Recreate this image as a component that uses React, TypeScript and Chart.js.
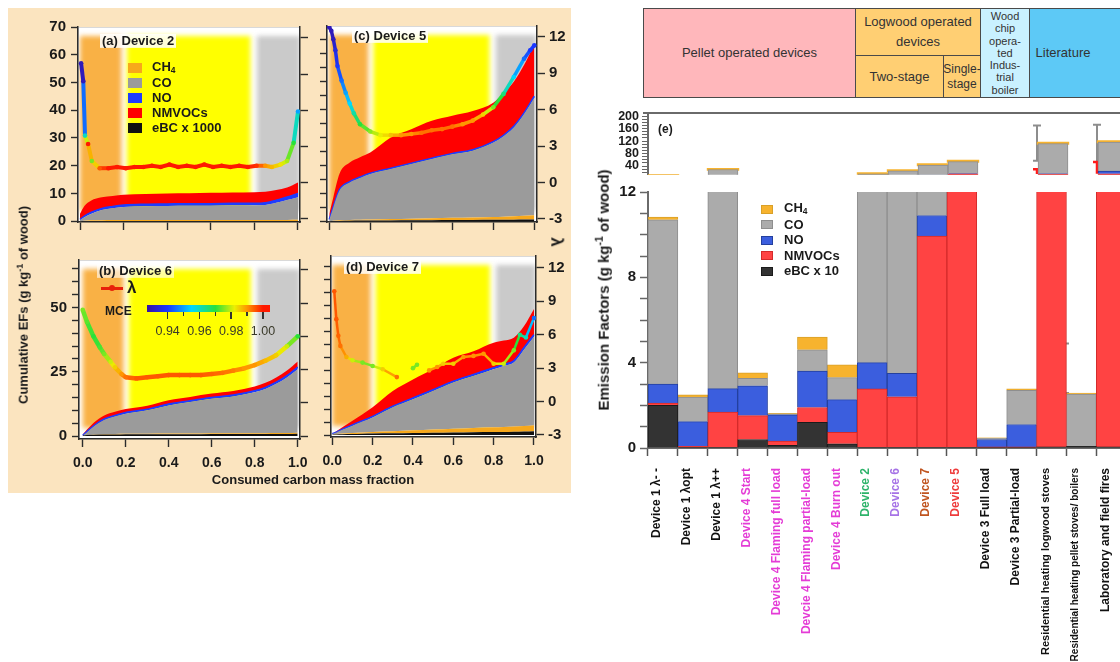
import React, { useEffect, useRef } from "react";
import { Chart, registerables } from "chart.js";

Chart.register(...registerables);

const FONT = "'Liberation Sans', Arial, Helvetica, sans-serif";
Chart.defaults.font.family = FONT;

/* ---------- panels (a)-(d): cumulative EFs vs consumed carbon mass fraction ---------- */
const EF_X = [0, 0.02, 0.05, 0.1, 0.15, 0.2, 0.3, 0.4, 0.5, 0.6, 0.7, 0.8, 0.85, 0.9, 0.95, 1.0];

// Device 2
const D2_EBC = [0, 0.05, 0.1, 0.1, 0.1, 0.1, 0.1, 0.1, 0.1, 0.1, 0.1, 0.1, 0.1, 0.1, 0.1, 0.1];
const D2_CH4 = [0, 0.1, 0.2, 0.25, 0.3, 0.3, 0.3, 0.3, 0.3, 0.3, 0.3, 0.3, 0.3, 0.3, 0.35, 0.4];
const D2_CO = [0.4, 1.25, 2.3, 3.65, 4.3, 4.7, 5.0, 5.1, 5.2, 5.2, 5.3, 5.3, 5.4, 6.2, 7.15, 8.1];
const D2_NO = [0.2, 0.4, 0.5, 0.6, 0.6, 0.7, 0.7, 0.7, 0.7, 0.7, 0.7, 0.7, 0.8, 0.9, 1.1, 1.4];
const D2_NMVOC = [2.1, 3.7, 4.3, 4.0, 3.8, 3.7, 3.7, 3.8, 3.8, 3.9, 3.9, 4.0, 4.0, 3.7, 3.4, 3.9];
const D2_LAMBDA_X = [0.005, 0.015, 0.023, 0.037, 0.054, 0.09, 0.13, 0.17, 0.21, 0.25, 0.29, 0.33, 0.37, 0.41, 0.45, 0.49, 0.53, 0.57, 0.61, 0.65, 0.69, 0.73, 0.77, 0.81, 0.85, 0.88, 0.92, 0.95, 0.98, 1.0];
const D2_LAMBDA = [9.9, 8.4, 3.9, 3.2, 1.8, 1.2, 1.2, 1.3, 1.2, 1.3, 1.3, 1.4, 1.3, 1.5, 1.3, 1.4, 1.3, 1.5, 1.3, 1.4, 1.3, 1.4, 1.3, 1.4, 1.4, 1.3, 1.5, 1.8, 3.3, 5.9];
const D2_MCE = [0.93, 0.93, 0.96, 1.0, 0.975, 0.995, 1.0, 1.0, 1.0, 1.0, 1.0, 1.0, 1.0, 1.0, 1.0, 1.0, 1.0, 1.0, 1.0, 1.0, 1.0, 1.0, 1.0, 0.998, 0.99, 0.987, 0.983, 0.978, 0.97, 0.95];

// Device 5
const D5_EBC = [0, 0.05, 0.1, 0.15, 0.2, 0.2, 0.25, 0.3, 0.35, 0.4, 0.45, 0.5, 0.5, 0.55, 0.6, 0.6];
const D5_CH4 = [0, 0.1, 0.2, 0.3, 0.35, 0.4, 0.5, 0.6, 0.7, 0.8, 0.9, 1.0, 1.1, 1.2, 1.3, 1.5];
const D5_CO = [0.5, 4.85, 10.7, 13.45, 14.95, 16.3, 17.95, 19.6, 21.25, 22.8, 23.95, 26.7, 28.9, 31.85, 36.5, 42.2];
const D5_NO = [0.1, 0.2, 0.3, 0.3, 0.3, 0.3, 0.3, 0.3, 0.3, 0.3, 0.3, 0.3, 0.3, 0.4, 0.4, 0.5];
const D5_NMVOC = [2.1, 3.4, 5.7, 6.8, 7.1, 7.4, 11.0, 12.2, 13.4, 13.5, 13.9, 14.0, 15.2, 16.0, 17.2, 18.6];
const D5_LAMBDA_X = [0.0, 0.01, 0.02, 0.03, 0.04, 0.06, 0.08, 0.1, 0.12, 0.15, 0.2, 0.25, 0.3, 0.35, 0.4, 0.45, 0.5, 0.55, 0.6, 0.65, 0.7, 0.75, 0.8, 0.85, 0.9, 0.95, 0.98, 1.0];
const D5_LAMBDA = [12.8, 12.5, 11.8, 10.9, 9.6, 8.4, 7.4, 6.5, 5.7, 4.8, 4.2, 3.9, 3.9, 3.9, 4.0, 4.1, 4.3, 4.4, 4.6, 4.8, 5.1, 5.6, 6.2, 7.3, 8.7, 10.2, 10.9, 11.3];
const D5_MCE = [0.93, 0.93, 0.93, 0.935, 0.94, 0.945, 0.95, 0.955, 0.962, 0.97, 0.976, 0.982, 0.986, 0.99, 0.99, 0.993, 0.993, 0.993, 0.993, 0.99, 0.99, 0.985, 0.975, 0.965, 0.955, 0.945, 0.94, 0.94];

// Device 6
const D6_EBC = [0.2, 0.4, 0.5, 0.6, 0.6, 0.7, 0.7, 0.7, 0.7, 0.8, 0.8, 0.8, 0.8, 0.8, 0.8, 0.9];
const D6_CH4 = [0, 0.05, 0.1, 0.15, 0.2, 0.2, 0.2, 0.25, 0.25, 0.3, 0.3, 0.3, 0.3, 0.35, 0.35, 0.4];
const D6_CO = [0, 1.05, 3.0, 5.45, 6.8, 7.8, 9.1, 10.95, 12.25, 13.4, 14.3, 15.9, 17.2, 19.15, 21.65, 24.7];
const D6_NO = [0.1, 0.2, 0.3, 0.4, 0.4, 0.4, 0.4, 0.5, 0.5, 0.5, 0.5, 0.6, 0.6, 0.6, 0.7, 0.8];
const D6_NMVOC = [0.3, 0.8, 1.2, 1.4, 1.4, 1.4, 1.4, 1.5, 1.5, 1.5, 1.6, 1.7, 1.8, 1.9, 2.0, 2.2];
const D6_LAMBDA_X = [0.0, 0.02, 0.05, 0.08, 0.1, 0.13, 0.15, 0.18, 0.2, 0.25, 0.3, 0.35, 0.4, 0.45, 0.5, 0.55, 0.6, 0.65, 0.7, 0.75, 0.8, 0.85, 0.9, 0.95, 1.0];
const D6_LAMBDA = [8.4, 7.3, 6.0, 5.0, 4.4, 3.7, 3.2, 2.6, 2.3, 2.2, 2.3, 2.4, 2.5, 2.5, 2.5, 2.5, 2.6, 2.7, 2.9, 3.1, 3.4, 3.8, 4.3, 5.1, 6.0];
const D6_MCE = [0.975, 0.973, 0.97, 0.972, 0.975, 0.98, 0.985, 0.99, 0.993, 0.995, 0.995, 0.995, 0.995, 0.995, 0.995, 0.995, 0.994, 0.993, 0.992, 0.99, 0.99, 0.987, 0.985, 0.98, 0.97];

// Device 7
const D7_EBC = [0.1, 0.2, 0.3, 0.4, 0.5, 0.6, 0.7, 0.8, 0.9, 1.0, 1.1, 1.2, 1.2, 1.3, 1.4, 1.5];
const D7_CH4 = [0.1, 0.2, 0.3, 0.4, 0.5, 0.6, 0.8, 1.0, 1.2, 1.4, 1.6, 1.8, 1.9, 2.0, 2.1, 2.3];
const D7_CO = [0.2, 0.6, 1.4, 2.8, 4.2, 5.6, 9.2, 12.0, 14.9, 17.9, 20.1, 22.4, 23.6, 24.7, 29.5, 34.2];
const D7_NO = [0.1, 0.1, 0.2, 0.3, 0.3, 0.4, 0.4, 0.5, 0.5, 0.5, 0.6, 0.6, 0.6, 0.7, 0.7, 0.8];
const D7_NMVOC = [0, 0.4, 0.8, 1.6, 2.5, 3.5, 5.9, 7.2, 7.9, 9.1, 9.0, 9.7, 9.2, 8.9, 8.3, 9.9];
const D7_LAMBDA_X = [0.01, 0.02, 0.03, 0.04, 0.07, 0.1, 0.15, 0.2, 0.25, 0.32, 0.36, 0.4, 0.42, 0.45, 0.48, 0.52, 0.55, 0.6, 0.65, 0.7, 0.75, 0.8, 0.85, 0.9, 0.93, 0.96, 1.0];
const D7_LAMBDA = [9.9, 7.4, 5.9, 5.0, 4.0, 3.7, 3.5, 3.2, 2.9, 2.2, null, 3.0, 3.3, null, 2.8, 3.1, 3.4, 3.4, 4.0, 4.1, 4.3, 3.4, 3.4, 4.6, 6.0, 5.75, 7.5];
const D7_MCE = [0.995, 0.995, 0.994, 0.993, 0.988, 0.98, 0.975, 0.975, 0.985, 0.993, 0.99, 0.975, 0.975, 0.99, 0.99, 0.99, 0.985, 0.985, 0.99, 0.99, 0.99, 0.985, 0.98, 0.975, 0.965, 0.96, 0.945];

// combustion phases (start-up, flaming, burn-out) on the consumed-carbon axis
const PHASE_START = [0, 0.215, 0.812];
const PHASE_END = [0.19, 0.782, 1.01];
const PHASE_COLORS = ["#F9B145", "#FFFF00", "#CACACA"];

const SUB_X_TICKS = [0, 0.2, 0.4, 0.6, 0.8, 1.0];
const LAMBDA_TICKS = [-3, 0, 3, 6, 9, 12];
const EF_TICKS_TOP = [0, 10, 20, 30, 40, 50, 60, 70];
const EF_TICKS_BOTTOM = [0, 5, 10, 15, 20, 25, 30, 35, 40, 45, 50, 55, 60, 65];
const EF_LABELS_BOTTOM = [0, 25, 50];

// MCE colour scale
const MCE_STOPS = [0.925, 0.94, 0.955, 0.97, 0.982, 0.99, 1.0];
const MCE_RGB = [
  [60, 12, 150],
  [25, 55, 255],
  [0, 215, 255],
  [40, 225, 60],
  [235, 240, 0],
  [255, 150, 0],
  [255, 25, 0],
];
const MCE_BAR_MIN = 0.927;
const MCE_BAR_MAX = 1.0044;
const MCE_BAR_TICKS = [0.94, 0.95, 0.96, 0.97, 0.98, 0.99, 1.0];
const MCE_BAR_LABELS = ["0.94", "0.96", "0.98", "1.00"];

/* ---------- panel (e): emission factors per device / operating condition ---------- */
const CATEGORIES = [
  "Device 1 λ- -",
  "Device 1 λopt",
  "Device 1 λ++",
  "Device 4 Start",
  "Device 4 Flaming full load",
  "Devcie 4 Flaming partial-load",
  "Device 4 Burn out",
  "Device 2",
  "Device 6",
  "Device 7",
  "Device 5",
  "Device 3 Full load",
  "Device 3 Partial-load",
  "Residential heating logwood stoves",
  "Residential heating pellet stoves/ boilers",
  "Laboratory and field fires",
];
const CATEGORY_COLORS = [
  "#111111", "#111111", "#111111",
  "#E43CD6", "#E43CD6", "#E43CD6", "#E43CD6",
  "#2DB36A", "#A673E6", "#C0541F", "#EE3B3B",
  "#111111", "#111111", "#111111", "#111111", "#111111",
];
const CATEGORY_FONT_SIZES = [12, 12, 12, 12, 12, 12, 12, 12, 12, 12, 12, 12, 12, 11, 10, 12];
const EBC_X10 = [2.0, 0.03, 0.03, 0.4, 0.12, 1.2, 0.2, 0.03, 0.03, 0.03, 0.03, 0.02, 0.02, 0.05, 0.08, 0.05];
const NMVOC = [0.1, 0.05, 1.65, 1.12, 0.2, 0.7, 0.54, 2.74, 2.37, 9.9, 15.0, 0.03, 0.03, 14.0, 0.0, 15.0];
const NO = [0.9, 1.16, 1.1, 1.4, 1.24, 1.7, 1.53, 1.23, 1.1, 0.97, 1.0, 0.35, 1.05, 1.0, 0.0, 9.0];
const CO = [7.7, 1.15, 26.0, 0.35, 0.04, 1.0, 1.03, 11.0, 21.0, 32.0, 38.0, 0.05, 1.6, 97.0, 2.45, 93.0];
const CH4 = [0.12, 0.1, 1.2, 0.25, 0.03, 0.6, 0.6, 1.0, 1.5, 2.0, 2.0, 0.03, 0.07, 2.0, 0.05, 2.0];
const TOTAL_ERR_LOW = [null, null, null, null, null, null, null, null, null, null, null, null, null, 57, 2.58, 53];
const TOTAL_ERR_HIGH = [null, null, null, null, null, null, null, null, null, null, null, null, null, 170, 4.9, 172];
const NMVOC_ERR_HIGH = [null, null, null, null, null, null, null, null, null, null, null, null, null, 30, null, 53];

const LOW_TICKS = [0, 1, 2, 3, 4, 5, 6, 7, 8, 9, 10, 11, 12];
const LOW_LABELS = [0, 4, 8, 12];
const HIGH_TICKS = [20, 30, 40, 50, 60, 70, 80, 90, 100, 110, 120, 130, 140, 150, 160, 170, 180, 190, 200];
const HIGH_LABELS = [40, 80, 120, 160, 200];

const SPECIES_COLORS = {
  ch4: "#F7B32E",
  co: "#ABABAB",
  no: "#3B5EDE",
  nmvoc: "#FF4343",
  ebc: "#333333",
};

/* ---------- helpers ---------- */
function mceColor(v: number): string {
  const c = Math.min(Math.max(v, MCE_STOPS[0]), MCE_STOPS[MCE_STOPS.length - 1]);
  let i = 0;
  while (i < MCE_STOPS.length - 2 && c > MCE_STOPS[i + 1]) i++;
  const t = (c - MCE_STOPS[i]) / (MCE_STOPS[i + 1] - MCE_STOPS[i]);
  const a = MCE_RGB[i];
  const b = MCE_RGB[i + 1];
  const m = (k: number) => Math.round(a[k] + (b[k] - a[k]) * t);
  return `rgb(${m(0)},${m(1)},${m(2)})`;
}

const plotBackground = {
  id: "plotBackground",
  beforeDraw(chart: any) {
    const { ctx, chartArea: a } = chart;
    ctx.save();
    ctx.fillStyle = "#ffffff";
    ctx.fillRect(a.left, a.top, a.width, a.height);
    ctx.strokeStyle = "#d9d9d9";
    ctx.lineWidth = 1;
    ctx.strokeRect(a.left + 0.5, a.top + 0.5, a.width - 1, a.height - 1);
    ctx.restore();
  },
};

const phaseShading = {
  id: "phaseShading",
  beforeDatasetsDraw(chart: any) {
    const { ctx, chartArea: a, scales } = chart;
    const x = scales.x;
    ctx.save();
    ctx.beginPath();
    ctx.rect(a.left + 1, a.top + 1, a.width - 2, a.height - 2);
    ctx.clip();
    ctx.filter = "blur(2.5px)";
    PHASE_START.forEach((s, i) => {
      const x0 = x.getPixelForValue(s);
      const x1 = x.getPixelForValue(PHASE_END[i]);
      ctx.fillStyle = PHASE_COLORS[i];
      ctx.fillRect(x0, a.top + 9, x1 - x0, a.height - 20);
    });
    ctx.restore();
  },
};

type Device = {
  ebc: number[];
  ch4: number[];
  co: number[];
  no: number[];
  nmvoc: number[];
  lx: number[];
  lv: (number | null)[];
  mce: number[];
  lw: number;
};

const DEVICES: Record<string, Device> = {
  d2: { ebc: D2_EBC, ch4: D2_CH4, co: D2_CO, no: D2_NO, nmvoc: D2_NMVOC, lx: D2_LAMBDA_X, lv: D2_LAMBDA, mce: D2_MCE, lw: 4 },
  d5: { ebc: D5_EBC, ch4: D5_CH4, co: D5_CO, no: D5_NO, nmvoc: D5_NMVOC, lx: D5_LAMBDA_X, lv: D5_LAMBDA, mce: D5_MCE, lw: 3.5 },
  d6: { ebc: D6_EBC, ch4: D6_CH4, co: D6_CO, no: D6_NO, nmvoc: D6_NMVOC, lx: D6_LAMBDA_X, lv: D6_LAMBDA, mce: D6_MCE, lw: 4.5 },
  d7: { ebc: D7_EBC, ch4: D7_CH4, co: D7_CO, no: D7_NO, nmvoc: D7_NMVOC, lx: D7_LAMBDA_X, lv: D7_LAMBDA, mce: D7_MCE, lw: 2.5 },
};

type Panel = {
  device: string;
  area: { l: number; t: number; r: number; b: number };
  xRange: [number, number];
  yRange: [number, number];
  lRange: [number, number];
  yTicks: number[];
  yLabels: number[];
  showX: boolean;
  showY: boolean;
  showL: boolean;
};

const AX_L = 50;
const AX_R = 40;
const PAD_T = 12;
const AX_B = 40;

const PANELS: Panel[] = [
  { device: "d2", area: { l: 78, t: 25, r: 300, b: 221.5 }, xRange: [-0.0092, 1.0092], yRange: [-0.3, 70], lRange: [-3.26, 12.9], yTicks: EF_TICKS_TOP, yLabels: EF_TICKS_TOP, showX: false, showY: true, showL: false },
  { device: "d5", area: { l: 327, t: 25, r: 537, b: 221.5 }, xRange: [-0.011, 1.0132], yRange: [-0.3, 70], lRange: [-3.26, 12.9], yTicks: EF_TICKS_BOTTOM, yLabels: [], showX: false, showY: false, showL: true },
  { device: "d6", area: { l: 79, t: 258, r: 300, b: 439 }, xRange: [-0.0172, 1.0107], yRange: [-1.15, 68.46], lRange: [-3.27, 12.89], yTicks: EF_TICKS_BOTTOM, yLabels: EF_LABELS_BOTTOM, showX: true, showY: true, showL: false },
  { device: "d7", area: { l: 331, t: 255, r: 536, b: 437 }, xRange: [-0.0064, 1.01], yRange: [-0.77, 69.2], lRange: [-3.18, 13.07], yTicks: EF_TICKS_BOTTOM, yLabels: [], showX: true, showY: false, showL: true },
];

function panelBox(p: Panel) {
  return {
    left: p.area.l - AX_L,
    top: p.area.t - PAD_T,
    width: Math.round(p.area.r - p.area.l + AX_L + AX_R),
    height: Math.round(p.area.b - p.area.t + PAD_T + AX_B),
  };
}

function panelConfig(p: Panel) {
  const dev = DEVICES[p.device];
  const area = (label: string, vals: number[], color: string, fill: any, line?: string) => ({
    type: "line",
    label,
    data: EF_X.map((x, i) => ({ x, y: vals[i] })),
    yAxisID: "y",
    order: 1,
    fill,
    backgroundColor: color,
    borderColor: line ?? color,
    borderWidth: line ? 1.6 : 0,
    pointRadius: 0,
    cubicInterpolationMode: "monotone",
  });
  const axisLine = { color: "#2b2b2b", width: 1.5 };
  const grid = { drawOnChartArea: false, tickLength: 8, color: "#2b2b2b", tickWidth: 1.4 };
  const tickFont = { size: 15, weight: "bold" };
  return {
    type: "line",
    data: {
      datasets: [
        {
          type: "line",
          label: "λ",
          yAxisID: "y1",
          order: 0,
          data: dev.lx.map((x, i) => ({ x, y: dev.lv[i] })),
          borderWidth: dev.lw,
          borderColor: mceColor(dev.mce[0]),
          segment: {
            borderColor: (c: any) => mceColor((dev.mce[c.p0DataIndex] + dev.mce[c.p1DataIndex]) / 2),
          },
          pointRadius: 2.3,
          pointBorderWidth: 0,
          pointBackgroundColor: dev.mce.map((m) => mceColor(m)),
          fill: false,
          tension: 0,
          spanGaps: false,
        },
        area("eBC x 1000", dev.ebc, "#111111", "origin"),
        area("CH4", dev.ch4, "#F7A81B", "-1"),
        area("CO", dev.co, "#9B9B9B", "-1"),
        area("NO", dev.no, "#1E3CFF", "-1", "#1E3CFF"),
        area("NMVOCs", dev.nmvoc, "#FF0000", "-1"),
      ],
    },
    options: {
      responsive: false,
      animation: false,
      events: [],
      layout: { padding: { top: PAD_T, left: 0, right: 0, bottom: 0 } },
      plugins: { legend: { display: false }, tooltip: { enabled: false } },
      scales: {
        x: {
          type: "linear",
          min: p.xRange[0],
          max: p.xRange[1],
          afterBuildTicks: (s: any) => {
            s.ticks = SUB_X_TICKS.map((v) => ({ value: v }));
          },
          afterFit: (s: any) => {
            s.height = AX_B;
          },
          grid,
          border: axisLine,
          ticks: {
            display: p.showX,
            autoSkip: false,
            maxRotation: 0,
            font: { size: 14, weight: "bold" },
            color: "#1a1a1a",
            padding: 8,
            callback: (v: any) => Number(v).toFixed(1),
          },
        },
        y: {
          type: "linear",
          stacked: true,
          position: "left",
          min: p.yRange[0],
          max: p.yRange[1],
          afterBuildTicks: (s: any) => {
            s.ticks = p.yTicks.map((v) => ({ value: v }));
          },
          afterFit: (s: any) => {
            s.width = AX_L;
          },
          grid: { ...grid, tickLength: 7 },
          border: axisLine,
          ticks: {
            display: p.showY,
            autoSkip: false,
            font: tickFont,
            color: "#1a1a1a",
            padding: 5,
            callback: (v: any) => (p.yLabels.includes(Number(v)) ? String(v) : ""),
          },
        },
        y1: {
          type: "linear",
          position: "right",
          min: p.lRange[0],
          max: p.lRange[1],
          afterBuildTicks: (s: any) => {
            s.ticks = LAMBDA_TICKS.map((v) => ({ value: v }));
          },
          afterFit: (s: any) => {
            s.width = AX_R;
          },
          grid,
          border: axisLine,
          ticks: {
            display: p.showL,
            autoSkip: false,
            font: tickFont,
            color: "#1a1a1a",
            padding: 4,
          },
        },
      },
    },
    plugins: [plotBackground, phaseShading],
  };
}

/* ---------- panel (e) charts ---------- */
const BAR_AREA = { l: 648, r: 1128, lowTop: 191, lowBottom: 448, highTop: 113, highBottom: 176 };

function barDatasets(upper: boolean) {
  const mk = (label: string, data: number[], bg: string, border: string, extra: any = {}) => ({
    label,
    data,
    backgroundColor: bg,
    borderColor: border,
    borderWidth: 1,
    stack: "ef",
    barPercentage: 1,
    categoryPercentage: 1,
    clip: 0,
    ...extra,
  });
  return [
    mk("eBC x 10", EBC_X10, SPECIES_COLORS.ebc, "#1b1b1b"),
    mk("NMVOCs", NMVOC, SPECIES_COLORS.nmvoc, "#D42A2A"),
    mk("NO", NO, SPECIES_COLORS.no, "#24409E"),
    mk("CO", CO, SPECIES_COLORS.co, "#8E8E8E"),
    mk("CH4", CH4, SPECIES_COLORS.ch4, "#D9A028", upper ? { inflateAmount: 1.2, borderWidth: 0 } : {}),
  ];
}

// error bars sit on the left edge of each bar; drawn beneath the bars
const errorBars = {
  id: "errorBars",
  beforeDatasetsDraw(chart: any) {
    const { ctx, chartArea: a, scales } = chart;
    const y = scales.y;
    const meta = chart.getDatasetMeta(4);
    ctx.save();
    ctx.beginPath();
    ctx.rect(a.left, a.top - 2, a.width, a.height + 2);
    ctx.clip();
    CATEGORIES.forEach((_, i) => {
      const el = meta.data[i];
      if (!el) return;
      const { x, width } = el.getProps(["x", "width"], true);
      const bx = Math.round(x - width / 2) - 1;
      const lo = TOTAL_ERR_LOW[i];
      const hi = TOTAL_ERR_HIGH[i];
      if (lo != null && hi != null) {
        const y0 = y.getPixelForValue(lo);
        const y1 = y.getPixelForValue(hi);
        ctx.strokeStyle = "#8d8d8d";
        ctx.lineWidth = 2;
        ctx.beginPath();
        ctx.moveTo(bx, y0);
        ctx.lineTo(bx, y1);
        ctx.moveTo(bx - 4, y0);
        ctx.lineTo(bx + 4, y0);
        ctx.moveTo(bx - 4, y1);
        ctx.lineTo(bx + 4, y1);
        ctx.stroke();
      }
      const nh = NMVOC_ERR_HIGH[i];
      if (nh != null) {
        const base = y.getPixelForValue(EBC_X10[i] + NMVOC[i]);
        const top = y.getPixelForValue(nh);
        ctx.strokeStyle = "#FF1A1A";
        ctx.lineWidth = 2.5;
        ctx.beginPath();
        ctx.moveTo(bx, base);
        ctx.lineTo(bx, top);
        ctx.moveTo(bx - 4, top);
        ctx.lineTo(bx + 4, top);
        ctx.stroke();
      }
    });
    ctx.restore();
  },
};

const topFrame = {
  id: "topFrame",
  afterDraw(chart: any) {
    const { ctx, chartArea: a } = chart;
    ctx.save();
    ctx.strokeStyle = "#6a6a6a";
    ctx.lineWidth = 2;
    ctx.beginPath();
    ctx.moveTo(a.left - 5, a.top);
    ctx.lineTo(a.right, a.top);
    ctx.stroke();
    ctx.restore();
  },
};

const LOW_BOX = {
  left: BAR_AREA.l - AX_L,
  top: BAR_AREA.lowTop - PAD_T,
  width: BAR_AREA.r - BAR_AREA.l + AX_L + 10,
  height: BAR_AREA.lowBottom - BAR_AREA.lowTop + PAD_T + 220,
};
const HIGH_BOX = {
  left: BAR_AREA.l - AX_L,
  top: BAR_AREA.highTop - PAD_T,
  width: BAR_AREA.r - BAR_AREA.l + AX_L + 10,
  height: BAR_AREA.highBottom - BAR_AREA.highTop + PAD_T + 8,
};

function lowBarConfig() {
  return {
    type: "bar",
    data: { labels: CATEGORIES, datasets: barDatasets(false) },
    options: {
      responsive: false,
      animation: false,
      events: [],
      layout: { padding: { top: PAD_T, left: 0, right: 10, bottom: 0 } },
      plugins: { legend: { display: false }, tooltip: { enabled: false } },
      scales: {
        x: {
          stacked: true,
          offset: true,
          afterFit: (s: any) => {
            s.height = 220;
          },
          grid: { offset: true, drawOnChartArea: false, tickLength: 8, color: "#555555", tickWidth: 1.5 },
          border: { color: "#6a6a6a", width: 2 },
          ticks: {
            autoSkip: false,
            minRotation: 90,
            maxRotation: 90,
            padding: 12,
            labelOffset: -6,
            color: (c: any) => CATEGORY_COLORS[c.index] ?? "#111",
            font: (c: any) => ({ size: CATEGORY_FONT_SIZES[c.index] ?? 12, weight: "bold" }),
          },
        },
        y: {
          stacked: true,
          min: 0,
          max: 12,
          afterBuildTicks: (s: any) => {
            s.ticks = LOW_TICKS.map((v) => ({ value: v }));
          },
          afterFit: (s: any) => {
            s.width = AX_L;
          },
          grid: { drawOnChartArea: false, tickLength: 8, color: "#666666", tickWidth: 1.5 },
          border: { color: "#6a6a6a", width: 2 },
          ticks: {
            autoSkip: false,
            padding: 4,
            color: "#1a1a1a",
            font: { size: 15, weight: "bold" },
            callback: (v: any) => (LOW_LABELS.includes(Number(v)) ? String(v) : ""),
          },
        },
      },
    },
    plugins: [errorBars],
  };
}

function highBarConfig() {
  return {
    type: "bar",
    data: { labels: CATEGORIES, datasets: barDatasets(true) },
    options: {
      responsive: false,
      animation: false,
      events: [],
      layout: { padding: { top: PAD_T, left: 0, right: 10, bottom: 8 } },
      plugins: { legend: { display: false }, tooltip: { enabled: false } },
      scales: {
        x: { display: false, stacked: true, offset: true },
        y: {
          stacked: true,
          min: 12,
          max: 210,
          afterBuildTicks: (s: any) => {
            s.ticks = HIGH_TICKS.map((v) => ({ value: v }));
          },
          afterFit: (s: any) => {
            s.width = AX_L;
          },
          grid: { drawOnChartArea: false, tickLength: 6, color: "#666666", tickWidth: 1 },
          border: { color: "#6a6a6a", width: 2 },
          ticks: {
            autoSkip: false,
            padding: 3,
            color: "#1a1a1a",
            font: { size: 12.5, weight: "bold", lineHeight: 1 },
            callback: (v: any) => (HIGH_LABELS.includes(Number(v)) ? String(v) : ""),
          },
        },
      },
    },
    plugins: [errorBars, topFrame],
  };
}

/* ---------- components ---------- */
type Box = { left: number; top: number; width: number; height: number };

function ChartCanvas({ box, make }: { box: Box; make: () => any }) {
  const ref = useRef<HTMLCanvasElement | null>(null);
  useEffect(() => {
    if (!ref.current) return;
    const chart = new Chart(ref.current, make());
    return () => chart.destroy();
  }, []);
  return (
    <canvas
      ref={ref}
      width={box.width}
      height={box.height}
      style={{ position: "absolute", left: box.left, top: box.top, width: box.width, height: box.height }}
    />
  );
}

function Label({
  x,
  y,
  children,
  size = 13,
  bold = true,
  anchor = "center",
  rotate = 0,
  color = "#1a1a1a",
  bg,
}: {
  x: number;
  y: number;
  children: React.ReactNode;
  size?: number;
  bold?: boolean;
  anchor?: "center" | "left";
  rotate?: number;
  color?: string;
  bg?: string;
}) {
  const tx = anchor === "center" ? "-50%" : "0";
  return (
    <div
      style={{
        position: "absolute",
        left: x,
        top: y,
        transform: `translate(${tx}, -50%)${rotate ? ` rotate(${rotate}deg)` : ""}`,
        whiteSpace: "nowrap",
        fontSize: size,
        fontWeight: bold ? 700 : 400,
        color,
        lineHeight: 1.1,
        background: bg,
        padding: bg ? "0 2px" : undefined,
      }}
    >
      {children}
    </div>
  );
}

function HeaderBox({
  l,
  t,
  w,
  h,
  bg,
  size = 13,
  lineHeight = "16px",
  children,
  innerStyle,
}: {
  l: number;
  t: number;
  w: number;
  h: number;
  bg: string;
  size?: number;
  lineHeight?: string;
  children: React.ReactNode;
  innerStyle?: React.CSSProperties;
}) {
  return (
    <div
      style={{
        position: "absolute",
        left: l,
        top: t,
        width: w,
        height: h,
        background: bg,
        border: "1.5px solid #4a4a4a",
        boxSizing: "border-box",
        display: "flex",
        alignItems: "center",
        justifyContent: "center",
        textAlign: "center",
        fontSize: size,
        lineHeight,
        color: "#333",
      }}
    >
      <div style={innerStyle}>{children}</div>
    </div>
  );
}

const CH4_TEXT = (
  <span>
    CH<sub style={{ fontSize: "0.65em", verticalAlign: "-0.25em" }}>4</sub>
  </span>
);

const PANEL_LEGEND = [
  { text: CH4_TEXT, color: "#F7A81B" },
  { text: "CO", color: "#9B9B9B" },
  { text: "NO", color: "#1E3CFF" },
  { text: "NMVOCs", color: "#FF0000" },
  { text: "eBC x 1000", color: "#111111" },
];

const BAR_LEGEND = [
  { text: CH4_TEXT, color: SPECIES_COLORS.ch4, border: "#D9A028" },
  { text: "CO", color: SPECIES_COLORS.co, border: "#8E8E8E" },
  { text: "NO", color: SPECIES_COLORS.no, border: "#24409E" },
  { text: "NMVOCs", color: SPECIES_COLORS.nmvoc, border: "#D42A2A" },
  { text: "eBC x 10", color: SPECIES_COLORS.ebc, border: "#1b1b1b" },
];

function mceGradient() {
  const stops = MCE_STOPS.map((s, i) => {
    const pct = ((s - MCE_BAR_MIN) / (MCE_BAR_MAX - MCE_BAR_MIN)) * 100;
    const c = MCE_RGB[i];
    return `rgb(${c[0]},${c[1]},${c[2]}) ${pct.toFixed(1)}%`;
  });
  return `linear-gradient(to right, ${stops.join(", ")})`;
}

export default function App() {
  const cbLeft = 147;
  const cbWidth = 123;
  const cbX = (v: number) => cbLeft + ((v - MCE_BAR_MIN) / (MCE_BAR_MAX - MCE_BAR_MIN)) * cbWidth;

  return (
    <div
      style={{
        position: "fixed",
        left: 0,
        top: 0,
        width: 1120,
        height: 662,
        overflow: "hidden",
        background: "#ffffff",
        fontFamily: FONT,
      }}
    >
      {/* left figure background */}
      <div style={{ position: "absolute", left: 8, top: 8, width: 563, height: 485, background: "#FBE4BF" }} />

      {PANELS.map((p) => (
        <ChartCanvas key={p.device} box={panelBox(p)} make={() => panelConfig(p)} />
      ))}

      {/* panel titles */}
      <Label x={100} y={41} anchor="left" bg="rgba(255,255,255,0.85)">(a) Device 2</Label>
      <Label x={352} y={36} anchor="left" bg="rgba(255,255,255,0.85)">(c) Device 5</Label>
      <Label x={97} y={271} anchor="left" bg="rgba(255,255,255,0.6)">(b) Device 6</Label>
      <Label x={344} y={267} anchor="left" bg="rgba(255,255,255,0.85)">(d) Device 7</Label>

      {/* species legend in (a) */}
      {PANEL_LEGEND.map((it, i) => (
        <React.Fragment key={i}>
          <div
            style={{
              position: "absolute",
              left: 128,
              top: 68 + i * 15 - 5,
              width: 14,
              height: 10,
              background: it.color,
            }}
          />
          <Label x={152} y={68 + i * 15} anchor="left">
            {it.text}
          </Label>
        </React.Fragment>
      ))}

      {/* λ / MCE legend in (b) */}
      <div style={{ position: "absolute", left: 101, top: 287, width: 22, height: 3, background: "#E8200A" }} />
      <div
        style={{ position: "absolute", left: 109, top: 285, width: 6, height: 6, borderRadius: 3, background: "#E8200A" }}
      />
      <Label x={127} y={288} anchor="left" size={17}>
        λ
      </Label>
      <Label x={105} y={312} anchor="left" size={12}>
        MCE
      </Label>
      <div
        style={{
          position: "absolute",
          left: cbLeft,
          top: 305,
          width: cbWidth,
          height: 7,
          background: mceGradient(),
        }}
      />
      {MCE_BAR_TICKS.map((v, i) => (
        <div
          key={v}
          style={{
            position: "absolute",
            left: cbX(v) - 0.75,
            top: 312,
            width: 1.5,
            height: i % 2 === 0 ? 7 : 4,
            background: "#333",
          }}
        />
      ))}
      {MCE_BAR_LABELS.map((t) => (
        <Label key={t} x={cbX(Number(t))} y={332} size={12.5} bold={false} color="#3a3a2a">
          {t}
        </Label>
      ))}

      {/* left figure axis titles */}
      <Label x={23} y={305} rotate={-90} size={13}>
        Cumulative EFs (g kg<sup style={{ fontSize: "0.7em" }}>-1</sup> of wood)
      </Label>
      <Label x={313} y={480} size={13}>
        Consumed carbon mass fraction
      </Label>
      <Label x={556} y={242} rotate={90} size={17}>
        λ
      </Label>

      {/* panel (e) category header */}
      <HeaderBox l={643} t={8} w={213} h={90} bg="#FFB7BB">
        Pellet operated devices
      </HeaderBox>
      <HeaderBox l={855} t={8} w={126} h={48} bg="#FFCF73" lineHeight="20px">
        Logwood operated
        <br />
        devices
      </HeaderBox>
      <HeaderBox l={855} t={55} w={89} h={43} bg="#FFCF73">
        Two-stage
      </HeaderBox>
      <HeaderBox l={943} t={55} w={38} h={43} bg="#FFCF73" size={12} lineHeight="15px">
        Single-
        <br />
        stage
      </HeaderBox>
      <HeaderBox l={980} t={8} w={50} h={90} bg="#C9F1FF" size={11} lineHeight="12.2px">
        Wood
        <br />
        chip
        <br />
        opera-
        <br />
        ted
        <br />
        Indus-
        <br />
        trial
        <br />
        boiler
      </HeaderBox>
      <HeaderBox l={1029} t={8} w={100} h={90} bg="#5DC9F6" innerStyle={{ marginRight: 32 }}>
        Literature
      </HeaderBox>

      {/* panel (e) broken-axis bar chart */}
      <ChartCanvas box={HIGH_BOX} make={highBarConfig} />
      <ChartCanvas box={LOW_BOX} make={lowBarConfig} />

      <Label x={658} y={130} anchor="left" size={12}>
        (e)
      </Label>
      {BAR_LEGEND.map((it, i) => (
        <React.Fragment key={i}>
          <div
            style={{
              position: "absolute",
              left: 761,
              top: 209 + i * 15.6 - 4.5,
              width: 12,
              height: 9,
              background: it.color,
              border: `1px solid ${it.border}`,
              boxSizing: "border-box",
            }}
          />
          <Label x={784} y={209 + i * 15.6} anchor="left">
            {it.text}
          </Label>
        </React.Fragment>
      ))}
      <Label x={603} y={290} rotate={-90} size={15}>
        Emission Factors (g kg<sup style={{ fontSize: "0.7em" }}>-1</sup> of wood)
      </Label>
    </div>
  );
}
